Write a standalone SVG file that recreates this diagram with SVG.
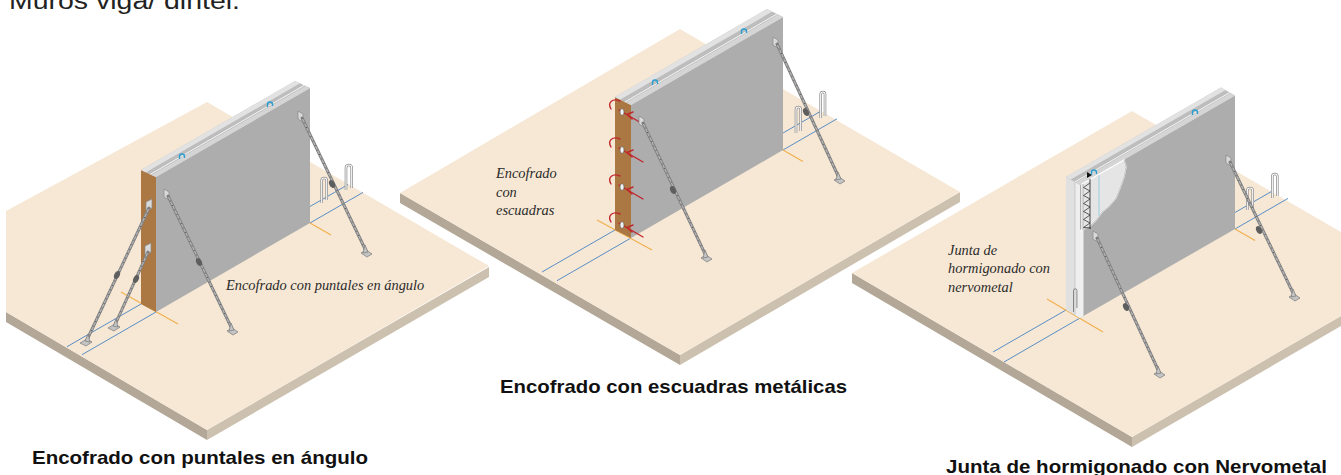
<svg xmlns="http://www.w3.org/2000/svg" width="1341" height="475" viewBox="0 0 1341 475">
  <style>
    .top{fill:#F7E8D5}
    .sideL{fill:#B3A897}
    .sideR{fill:#CCC1AF}
    .face{fill:#ADADAD}
    .plank{fill:#AB7843}
    .wtop{fill:#BDBDBD}
    .stripB{fill:#E2E2E2}
    .stripF{fill:#D5D5D5}
    .hl{stroke:#F6F6F6;stroke-width:1;fill:none}
    .blue{stroke:#5A8EC6;stroke-width:1;fill:none}
    .orange{stroke:#F1B04F;stroke-width:1.2;fill:none}
    .rod-o{stroke:#808080;stroke-width:3;stroke-linecap:round}
    .rod-i{stroke:#B8B8B8;stroke-width:1.1}
    .rod-d{stroke:#4D4D4D;stroke-width:1;stroke-dasharray:1 4}
    .knob{fill:#5E5E5E}
    .plate{fill:#D9D9D9;stroke:#878787;stroke-width:.7}
    .foot{fill:#C4C4C4;stroke:#7A7A7A;stroke-width:.7}
    .pin-o{stroke:#8C8C8C;stroke-width:2.6;fill:none}
    .pin-i{stroke:#FFFFFF;stroke-width:1.1;fill:none}
    .hook{stroke:#2B9FD0;stroke-width:1.4;fill:none}
    .clamp{stroke:#C1272D;stroke-width:1.4;fill:none;stroke-linecap:round}
    .nut{fill:#F2F2F2;stroke:#555;stroke-width:.6}
    .note{font-family:"Liberation Serif","Times New Roman",serif;font-style:italic;font-size:14.4px;fill:#2B2B2B}
    .cap{font-family:"Liberation Sans",Arial,sans-serif;font-weight:bold;font-size:19px;fill:#111}
    .head{font-family:"Liberation Sans",Arial,sans-serif;font-size:23px;fill:#222}
  </style>

  <rect width="1341" height="475" fill="#FFFFFF"/>

  <text class="head" x="9" y="9" textLength="231" lengthAdjust="spacingAndGlyphs">Muros viga/ dintel.</text>

  <!-- ground slabs -->
  <g id="slab-1">
    <polygon class="sideL" points="6,312 207,430 207,440 6,322"/>
    <polygon class="sideR" points="207,430 489,267 489,277 207,440"/>
    <polygon class="top" points="6,211 207,102 489,266 207,430 6,312"/>
  </g>
  <g id="slab-2">
    <polygon class="sideL" points="400,193 680,355 680,365 400,203"/>
    <polygon class="sideR" points="680,355 960,192 960,202 680,365"/>
    <polygon class="top" points="400,193 680,29 960,192 680,355"/>
  </g>
  <g id="slab-3">
    <polygon class="sideL" points="852,273 1132,437 1132,447 852,283"/>
    <polygon class="sideR" points="1132,437 1341,316 1341,326 1132,447"/>
    <polygon class="top" points="852,273 1132,111 1341,232 1341,316 1132,437"/>
  </g>

  <!-- setting-out lines on the ground -->
  <g id="ground-lines">
    <line class="blue" x1="67" y1="346.7" x2="141" y2="304"/>
    <line class="blue" x1="82" y1="354.7" x2="156" y2="312"/>
    <line class="blue" x1="310" y1="206.5" x2="348" y2="184.6"/>
    <line class="blue" x1="310" y1="223" x2="363" y2="192.4"/>
    <line class="orange" x1="121" y1="292" x2="178" y2="324"/>
    <line class="orange" x1="310" y1="223" x2="331" y2="235"/>

    <line class="blue" x1="542" y1="272" x2="615" y2="230"/>
    <line class="blue" x1="557" y1="280.7" x2="631" y2="238"/>
    <line class="blue" x1="783" y1="133" x2="822" y2="110.5"/>
    <line class="blue" x1="783" y1="150" x2="837" y2="118.8"/>
    <line class="orange" x1="597" y1="220" x2="652" y2="250"/>
    <line class="orange" x1="783" y1="150" x2="803" y2="161.5"/>

    <line class="blue" x1="993" y1="352" x2="1066" y2="310"/>
    <line class="blue" x1="1004" y1="362" x2="1080" y2="318"/>
    <line class="blue" x1="1235" y1="212.5" x2="1273" y2="190.6"/>
    <line class="blue" x1="1235" y1="229" x2="1288" y2="198.4"/>
    <line class="orange" x1="1047" y1="299" x2="1103" y2="332"/>
    <line class="orange" x1="1235" y1="229" x2="1255" y2="240.5"/>
  </g>

  <!-- starter bars -->
  <g id="pins">
    <path class="pin-o" d="M321.7,203 V180.5 A2.5,2.5 0 0 1 326.7,180.5 V200"/>
    <path class="pin-i" d="M321.7,203 V180.5 A2.5,2.5 0 0 1 326.7,180.5 V200"/>
    <path class="pin-o" d="M346,190 V167.8 A2.85,2.85 0 0 1 351.7,167.8 V188"/>
    <path class="pin-i" d="M346,190 V167.8 A2.85,2.85 0 0 1 351.7,167.8 V188"/>

    <path class="pin-o" d="M796,133 V109.4 A2.35,2.35 0 0 1 800.7,109.4 V131"/>
    <path class="pin-i" d="M796,133 V109.4 A2.35,2.35 0 0 1 800.7,109.4 V131"/>
    <path class="pin-o" d="M820.7,118 V94.2 A2.15,2.15 0 0 1 825,94.2 V116"/>
    <path class="pin-i" d="M820.7,118 V94.2 A2.15,2.15 0 0 1 825,94.2 V116"/>

    <path class="pin-o" d="M1247.3,210 V190.7 A2.7,2.7 0 0 1 1252.7,190.7 V208"/>
    <path class="pin-i" d="M1247.3,210 V190.7 A2.7,2.7 0 0 1 1252.7,190.7 V208"/>
    <path class="pin-o" d="M1272.3,198 V176.5 A2.5,2.5 0 0 1 1277.3,176.5 V196"/>
    <path class="pin-i" d="M1272.3,198 V176.5 A2.5,2.5 0 0 1 1277.3,176.5 V196"/>
  </g>

  <!-- wall 1: formwork with angled props -->
  <g id="wall-1">
    <polygon class="plank" points="141,170 156,177 156,312 141,304"/>
    <polygon class="face" points="156,177 310,88 310,223 156,312"/>
    <polygon class="wtop" points="141,170 156,177 310,88 295,81"/>
    <polygon class="stripB" points="141,170 295,81 300,83.3 146,172.3"/>
    <polygon class="stripF" points="151.5,174.9 305.5,85.9 310,88 156,177"/>
    <line class="hl" x1="150.3" y1="174.3" x2="304.3" y2="85.3"/>
    <path class="hook" d="M179.5,159 V156.5 A2.5,2.5 0 0 1 184.5,156.5 V158"/>
    <path class="hook" d="M267.5,107 V104.5 A2.5,2.5 0 0 1 272.5,104.5 V106"/>
  </g>

  <!-- wall 2: formwork with steel squares -->
  <g id="wall-2">
    <polygon class="plank" points="615,97 631,105 631,238 615,230"/>
    <polygon class="face" points="631,105 783,17 783,150 631,238"/>
    <polygon class="wtop" points="615,97 631,105 783,17 767,9"/>
    <polygon class="stripB" points="615,97 767,9 772.3,11.6 620.3,99.6"/>
    <polygon class="stripF" points="626.2,102.6 778.2,14.6 783,17 631,105"/>
    <line class="hl" x1="624.9" y1="102" x2="776.9" y2="14"/>
    <path class="hook" d="M652.5,85 V82.5 A2.5,2.5 0 0 1 657.5,82.5 V84"/>
    <path class="hook" d="M741.5,34 V31.5 A2.5,2.5 0 0 1 746.5,31.5 V33"/>
  </g>

  <g id="squares">
    <g>
      <path class="clamp" d="M611,109 C607,102 613,98 620,101"/>
      <line class="clamp" x1="619" y1="110" x2="643" y2="124"/>
      <path class="clamp" d="M633,112 L627,114.5 L632,119"/>
      <ellipse class="nut" cx="622" cy="112" rx="2" ry="3.3"/>
    </g>
    <g>
      <path class="clamp" d="M611,147 C607,140 613,136 620,139"/>
      <line class="clamp" x1="619" y1="148" x2="643" y2="162"/>
      <path class="clamp" d="M633,150 L627,152.5 L632,157"/>
      <ellipse class="nut" cx="622" cy="150" rx="2" ry="3.3"/>
    </g>
    <g>
      <path class="clamp" d="M611,184 C607,177 613,173 620,176"/>
      <line class="clamp" x1="619" y1="185" x2="643" y2="199"/>
      <path class="clamp" d="M633,187 L627,189.5 L632,194"/>
      <ellipse class="nut" cx="622" cy="187" rx="2" ry="3.3"/>
    </g>
    <g>
      <path class="clamp" d="M611,222 C607,215 613,211 620,214"/>
      <line class="clamp" x1="619" y1="223" x2="643" y2="237"/>
      <path class="clamp" d="M633,225 L627,227.5 L632,232"/>
      <ellipse class="nut" cx="622" cy="225" rx="2" ry="3.3"/>
    </g>
  </g>

  <!-- wall 3: construction joint with expanded metal -->
  <g id="wall-3">
    <polygon fill="#E0E0E0" points="1066,177 1080,185 1080,318 1066,310"/>
    <polygon fill="#EEEEEE" points="1075,182 1080,185 1080,318 1075,315"/>
    <line x1="1075" y1="182" x2="1075" y2="315" stroke="#C2C2C2" stroke-width=".8"/>
    <polygon class="face" points="1080,185 1235,95.5 1235,229 1080,318"/>
    <polygon fill="#F0F0F0" points="1080,230 1083.5,228 1083.5,316 1080,318"/>
    <polygon class="wtop" points="1066,177 1080,185 1235,95.5 1221,87.5"/>
    <polygon class="stripB" points="1066,177 1221,87.5 1225.6,90.1 1070.6,179.6"/>
    <polygon class="stripF" points="1075.8,182.6 1230.8,93.1 1235,95.5 1080,185"/>
    <line class="hl" x1="1074.7" y1="182" x2="1229.7" y2="92.5"/>
    <path class="hook" d="M1192.5,115 V112.5 A2.5,2.5 0 0 1 1197.5,112.5 V114"/>
    <path d="M1073.5,312 V290.5 A1.7,1.7 0 0 1 1076.9,290.5 V308" fill="none" stroke="#6E6E6E" stroke-width=".8"/>
  </g>

  <g id="joint-cutaway">
    <polygon fill="#E5E5E5" stroke="#FFFFFF" stroke-width="1.4" points="1082,184 1124,160 1126,167 1124,177 1120,188 1116,198 1109,206 1102,212 1096,220 1090,226 1082,230"/>
    <polyline fill="none" stroke="#9A9A9A" stroke-width=".6" points="1124,160 1126,167 1124,177 1120,188 1116,198 1109,206 1102,212 1096,220 1090,226 1082,230"/>
    <line x1="1099" y1="175" x2="1099" y2="216" stroke="#8CCBE0" stroke-width=".8"/>
    <polygon fill="#111" points="1087,172 1092,175 1087,178"/>
    <path class="hook" d="M1091.5,175 V172.5 A2.5,2.5 0 0 1 1096.5,172.5 V174"/>
    <line x1="1090" y1="179" x2="1090" y2="229" stroke="#333" stroke-width=".9"/>
    <line x1="1083" y1="184" x2="1083" y2="229" stroke="#888" stroke-width=".6"/>
    <path fill="none" stroke="#333" stroke-width=".8" d="M1090,183 L1083.5,187.5 L1090,191 L1083.5,195.5 L1090,199 L1083.5,203.5 L1090,207 L1083.5,211.5 L1090,215 L1083.5,219.5 L1090,223 L1083.5,227.5 L1091,228"/>
  </g>

  <!-- props: rod, turnbuckle, head plate and base plate -->
  <g id="props">
    <g>
      <polygon class="plate" points="164,189 169,192 169,200 164,197"/>
      <line class="rod-o" x1="168" y1="196" x2="233" y2="331"/>
      <line class="rod-i" x1="168" y1="196" x2="233" y2="331"/>
      <line class="rod-d" x1="168" y1="196" x2="233" y2="331"/>
      <ellipse class="knob" cx="199" cy="262" rx="4.2" ry="2.7" transform="rotate(64 199 262)"/>
      <polygon class="foot" points="227,331 232,328 238,332 233,335"/>
      <polygon class="foot" points="229,331 231,323 234,330"/>
    </g>
    <g>
      <polygon class="plate" points="298,111 303,114 303,122 298,119"/>
      <line class="rod-o" x1="302" y1="118" x2="367" y2="253"/>
      <line class="rod-i" x1="302" y1="118" x2="367" y2="253"/>
      <line class="rod-d" x1="302" y1="118" x2="367" y2="253"/>
      <ellipse class="knob" cx="332" cy="184" rx="4.2" ry="2.7" transform="rotate(64 332 184)"/>
      <polygon class="foot" points="361,253 366,250 372,254 367,257"/>
      <polygon class="foot" points="363,253 365,245 368,252"/>
    </g>
    <g>
      <polygon class="plate" points="146,202 152,199 152,208 146,211"/>
      <line class="rod-o" x1="149" y1="208" x2="86" y2="342"/>
      <line class="rod-i" x1="149" y1="208" x2="86" y2="342"/>
      <line class="rod-d" x1="149" y1="208" x2="86" y2="342"/>
      <ellipse class="knob" cx="117" cy="275" rx="4.2" ry="2.7" transform="rotate(115 117 275)"/>
      <polygon class="foot" points="92,342 87,339 80,343 86,346"/>
      <polygon class="foot" points="90,342 88,334 85,341"/>
    </g>
    <g>
      <polygon class="plate" points="145,246 151,243 151,252 145,255"/>
      <line class="rod-o" x1="148" y1="252" x2="114" y2="327"/>
      <line class="rod-i" x1="148" y1="252" x2="114" y2="327"/>
      <line class="rod-d" x1="148" y1="252" x2="114" y2="327"/>
      <ellipse class="knob" cx="136" cy="279" rx="4.2" ry="2.7" transform="rotate(114 136 279)"/>
      <polygon class="foot" points="120,327 115,324 108,328 114,331"/>
      <polygon class="foot" points="118,327 116,319 113,326"/>
    </g>

    <g>
      <polygon class="plate" points="639,116 644,119 644,127 639,124"/>
      <line class="rod-o" x1="643" y1="123" x2="707" y2="258"/>
      <line class="rod-i" x1="643" y1="123" x2="707" y2="258"/>
      <line class="rod-d" x1="643" y1="123" x2="707" y2="258"/>
      <ellipse class="knob" cx="673" cy="190" rx="4.2" ry="2.7" transform="rotate(65 673 190)"/>
      <polygon class="foot" points="701,258 706,255 712,259 707,262"/>
      <polygon class="foot" points="703,258 705,250 708,257"/>
    </g>
    <g>
      <polygon class="plate" points="773,37 778,40 778,48 773,45"/>
      <line class="rod-o" x1="777" y1="44" x2="840" y2="180"/>
      <line class="rod-i" x1="777" y1="44" x2="840" y2="180"/>
      <line class="rod-d" x1="777" y1="44" x2="840" y2="180"/>
      <ellipse class="knob" cx="806" cy="112" rx="4.2" ry="2.7" transform="rotate(65 806 112)"/>
      <polygon class="foot" points="834,180 839,177 845,181 840,184"/>
      <polygon class="foot" points="836,180 838,172 841,179"/>
    </g>

    <g>
      <polygon class="plate" points="1093,231 1098,234 1098,242 1093,239"/>
      <line class="rod-o" x1="1097" y1="238" x2="1160" y2="374"/>
      <line class="rod-i" x1="1097" y1="238" x2="1160" y2="374"/>
      <line class="rod-d" x1="1097" y1="238" x2="1160" y2="374"/>
      <ellipse class="knob" cx="1126" cy="307" rx="4.2" ry="2.7" transform="rotate(65 1126 307)"/>
      <polygon class="foot" points="1154,374 1159,371 1165,375 1160,378"/>
      <polygon class="foot" points="1156,374 1158,366 1161,373"/>
    </g>
    <g>
      <polygon class="plate" points="1226,155 1231,158 1231,166 1226,163"/>
      <line class="rod-o" x1="1230" y1="162" x2="1295" y2="297"/>
      <line class="rod-i" x1="1230" y1="162" x2="1295" y2="297"/>
      <line class="rod-d" x1="1230" y1="162" x2="1295" y2="297"/>
      <ellipse class="knob" cx="1259" cy="230" rx="4.2" ry="2.7" transform="rotate(64 1259 230)"/>
      <polygon class="foot" points="1289,297 1294,294 1300,298 1295,301"/>
      <polygon class="foot" points="1291,297 1293,289 1296,296"/>
    </g>
  </g>

  <!-- notes in the drawings -->
  <g id="notes">
    <text class="note" x="226" y="290">Encofrado con puntales en ángulo</text>
    <text class="note" x="496" y="178">Encofrado</text>
    <text class="note" x="496" y="197">con</text>
    <text class="note" x="496" y="215">escuadras</text>
    <text class="note" x="948" y="255">Junta de</text>
    <text class="note" x="948" y="273">hormigonado con</text>
    <text class="note" x="948" y="292">nervometal</text>
  </g>

  <!-- captions -->
  <g id="captions">
    <text class="cap" x="32" y="464" textLength="336" lengthAdjust="spacingAndGlyphs">Encofrado con puntales en ángulo</text>
    <text class="cap" x="500" y="393" textLength="347" lengthAdjust="spacingAndGlyphs">Encofrado con escuadras metálicas</text>
    <text class="cap" x="946" y="473" textLength="381" lengthAdjust="spacingAndGlyphs">Junta de hormigonado con Nervometal</text>
  </g>
</svg>
